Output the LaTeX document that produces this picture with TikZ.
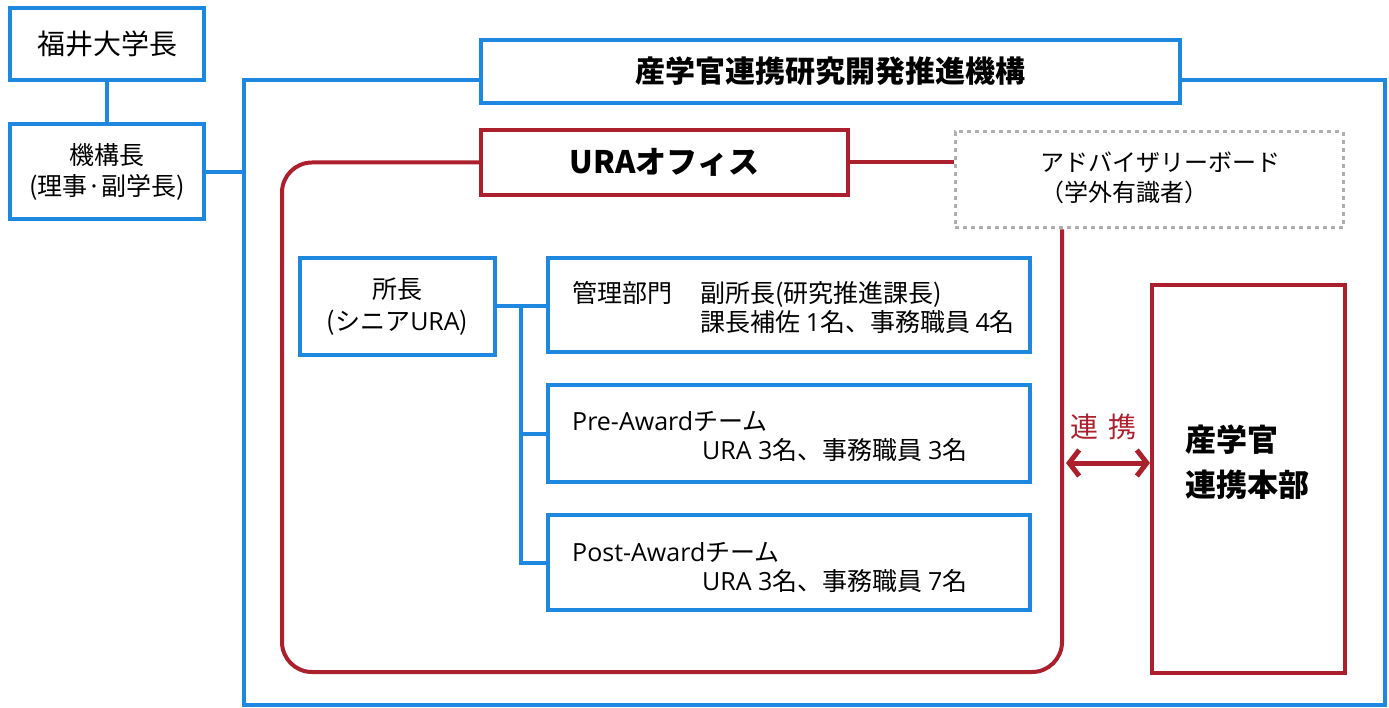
\documentclass[tikz,border=0pt]{standalone}
\usepackage{fontspec}
\setmainfont{Noto Sans CJK JP}
\newfontfamily\latin{Open Sans}
\usetikzlibrary{arrows.meta,positioning}
\definecolor{orgblue}{RGB}{30,136,225}
\definecolor{urared}{RGB}{172,32,45}
\definecolor{advgray}{RGB}{175,175,175}
\tikzset{
  bluebox/.style={draw=orgblue,line width=4pt,inner sep=0pt},
  redbox/.style={draw=urared,line width=4pt,inner sep=0pt},
  blueline/.style={draw=orgblue,line width=4pt},
  redline/.style={draw=urared,line width=4pt},
  txt/.style={inner sep=0pt,font=\fontsize{25}{29}\selectfont},
}
\begin{document}
\begin{tikzpicture}[x=1pt,y=-1pt]
  \useasboundingbox (0,0) rectangle (1389,708);
  \node[bluebox,minimum width=1141,minimum height=625] (frame) at (814.5,392.5) {}; %Cadre du kikou
  \node[bluebox,fill=white,minimum width=194,minimum height=72,font=\fontsize{28}{34}\selectfont] (pres) at (107,44) {福井大学長};
  \node[bluebox,fill=white,minimum width=194,minimum height=95,align=center,font=\fontsize{25}{31}\selectfont] (head) at (107,172) {機構長\\(理事·副学長)};
  \draw[blueline] (pres) -- (head);
  \draw[blueline] (head.east) -- (head.east -| frame.west);
  \node[bluebox,fill=white,minimum width=699,minimum height=63,font=\bfseries\fontsize{30}{36}\selectfont] (org) at (830.5,71.5) {産学官連携研究開発推進機構};
  % URA
  \node[draw=advgray,line width=3pt,dash pattern=on 4pt off 4pt,fill=white,minimum width=388,minimum height=96,inner sep=0pt] (adv) at (1149,180) {};
  \node[inner sep=0pt,anchor=west,align=left,font=\fontsize{24}{30}\selectfont] (advtxt) at (1040,178) {アドバイザリーボード\\（学外有識者）};
  \node[redbox,fill=white,minimum width=367,minimum height=65,font=\bfseries\fontsize{31}{36}\selectfont] (ura) at (664.5,162.5) {URAオフィス};
  \draw[redline,rounded corners=30pt] (ura.west) -| (282,672) -| (adv.south -| 1062,0); %Cadre URA
  \draw[redline] (ura.east) -- (ura.east -| adv.west);
  \node[bluebox,fill=white,minimum width=195,minimum height=97,align=center,font=\fontsize{25}{32}\selectfont] (dir) at (397.5,306.5) {所長\\({シニア}{\latin URA})};
  \node[bluebox,fill=white,minimum width=482,minimum height=94] (mgt) at (789,305) {};
  \node[bluebox,fill=white,minimum width=482,minimum height=97] (pre) at (789,433.5) {};
  \node[bluebox,fill=white,minimum width=482,minimum height=95] (post) at (789,562.5) {};
  \node[txt,anchor=west] (mgtname) at (572,293) {管理部門};
  \node[txt,anchor=west,align=left] (mgtstaff) at (700,307.5) {副所長(研究推進課長)\\課長補佐 {\latin 1}名、事務職員 {\latin 4}名};
  \node[txt,anchor=west,align=left] (pretxt) at (572,436) {{\latin Pre-Award}チーム\\\hspace*{130pt}{\latin URA 3}名、事務職員 {\latin 3}名};
  \node[txt,anchor=west,align=left] (posttxt) at (572,567) {{\latin Post-Award}チーム\\\hspace*{130pt}{\latin URA 3}名、事務職員 {\latin 7}名};
  \coordinate (trunk) at (521,0);
  \draw[blueline] (dir.east) -- (dir.east -| mgt.west);
  \draw[blueline] (dir.east -| trunk) |- (post.west);
  \draw[blueline] (trunk |- pre.west) -- (pre.west);
  % honbu
  \node[redbox,fill=white,minimum width=193,minimum height=388] (hq) at (1248.5,479) {};
  \node[inner sep=0pt,anchor=west,align=left,font=\bfseries\fontsize{31}{45}\selectfont] (hqtxt) at (1185,462) {産学官\\連携本部};
  \node[text=urared,inner sep=0pt,font=\fontsize{28}{32}\selectfont] (link) at (1103,427) {連\hspace{10pt}携};
  \coordinate (linkL) at (1066,463);
  \draw[urared,line width=5pt,{Straight Barb[length=10pt,width=26pt]}-{Straight Barb[length=10pt,width=26pt]}] (linkL) -- (linkL -| hq.west);
\end{tikzpicture}
\end{document}
